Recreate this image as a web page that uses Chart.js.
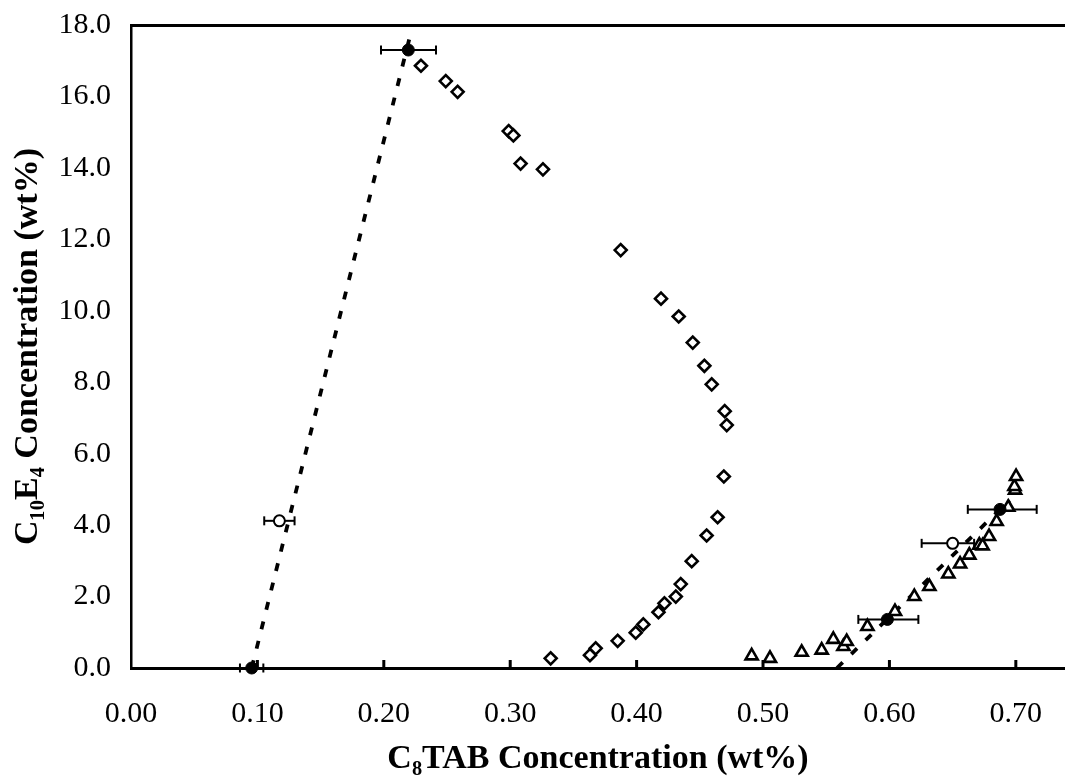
<!DOCTYPE html>
<html><head><meta charset="utf-8">
<script src="https://cdn.jsdelivr.net/npm/chart.js@4/dist/chart.umd.min.js"></script>
<style>html,body{margin:0;padding:0;background:#fff;overflow:hidden}#wrap{width:1065px;height:784px;position:relative}</style>
</head><body><div id="wrap"><canvas id="c"></canvas></div>
<script>
// Tick labels
const xTickValues = [0, 0.1, 0.2, 0.3, 0.4, 0.5, 0.6, 0.7];
const yTickValues = [0, 2, 4, 6, 8, 10, 12, 14, 16, 18];

// Diamonds (open)
const diamondX = [0.2294,0.2490,0.2584,0.2988,0.3025,0.3082,0.3259,0.3874,0.4193,0.4333,0.4444,0.4536,0.4594,0.4697,0.4713,0.4690,0.4641,0.4554,0.4436,0.4349,0.4310,0.4220,0.4173,0.4053,0.3993,0.3850,0.3676,0.3631,0.3320];
const diamondY = [16.86,16.43,16.13,15.03,14.91,14.12,13.96,11.70,10.34,9.84,9.11,8.46,7.94,7.19,6.80,5.36,4.22,3.71,2.99,2.35,2.00,1.81,1.56,1.22,0.99,0.76,0.55,0.36,0.27];

// Triangles (open)
const triX = [0.4910,0.5055,0.5306,0.5464,0.5556,0.5636,0.5662,0.5826,0.6044,0.6197,0.6316,0.6466,0.6559,0.6632,0.6711,0.6737,0.6788,0.6848,0.6940,0.6994,0.6989,0.7002];
const triY = [0.34,0.27,0.44,0.50,0.80,0.60,0.74,1.16,1.58,2.00,2.28,2.63,2.91,3.16,3.44,3.42,3.68,4.10,4.50,4.98,5.08,5.36];

// Filled tie-line end points with horizontal error bars
const tieX = [0.0955, 0.2194, 0.5984, 0.6875];
const tieY = [0, 17.30, 1.36, 4.44];
const tieErrLo = [0.0093, 0.0216, 0.0230, 0.0255];
const tieErrHi = [0.0092, 0.0219, 0.0245, 0.0290];

// Open circles with horizontal error bars
const openX = [0.1174, 0.6500];
const openY = [4.12, 3.49];
const openErrLo = [0.0120, 0.0245];
const openErrHi = [0.0120, 0.0170];

// Dotted tie lines
const tieLineLeftX = [0.0955, 0.2215];
const tieLineLeftY = [0, 17.80];
const tieLineRightX = [0.5585, 0.6950];
const tieLineRightY = [0, 4.70];

const pts = (xs, ys) => xs.map((x, i) => ({x, y: ys[i]}));
const SERIF = "'Liberation Serif','Times New Roman','DejaVu Serif',serif";

const datasets = [];
datasets.push({label:'tie points', data: pts(tieX, tieY), showLine:false, pointStyle:'circle', pointRadius:6,
  pointBackgroundColor:'#000', pointBorderColor:'#000', pointBorderWidth:1, clip:false});
datasets.push({label:'open points', data: pts(openX, openY), showLine:false, pointStyle:'circle', pointRadius:5.5,
  pointBackgroundColor:'#fff', pointBorderColor:'#000', pointBorderWidth:2, clip:false});
datasets.push({label:'diamonds', data: pts(diamondX, diamondY), showLine:false, pointStyle:'rectRot', pointRadius:6,
  pointBackgroundColor:'#fff', pointBorderColor:'#000', pointBorderWidth:2.6});
datasets.push({label:'triangles', data: pts(triX, triY), showLine:false, pointStyle:'triangle', pointRadius:7,
  pointBackgroundColor:'#fff', pointBorderColor:'#000', pointBorderWidth:2.6});
tieX.forEach((x, i) => datasets.push({label:'err', data:[{x:x - tieErrLo[i], y:tieY[i]}, {x:x + tieErrHi[i], y:tieY[i]}],
  showLine:true, borderColor:'#000', borderWidth:2, pointStyle:'line', pointRotation:90, pointRadius:4.5,
  pointBorderColor:'#000', pointBorderWidth:2, clip:false}));
openX.forEach((x, i) => datasets.push({label:'err', data:[{x:x - openErrLo[i], y:openY[i]}, {x:x + openErrHi[i], y:openY[i]}],
  showLine:true, borderColor:'#000', borderWidth:2, pointStyle:'line', pointRotation:90, pointRadius:4.5,
  pointBorderColor:'#000', pointBorderWidth:2, clip:false}));
datasets.push({label:'tie line left', data: pts(tieLineLeftX, tieLineLeftY), showLine:true, borderColor:'#000',
  borderWidth:3.8, borderDash:[8,12], pointRadius:0, clip:false});
datasets.push({label:'tie line right', data: pts(tieLineRightX, tieLineRightY), showLine:true, borderColor:'#000',
  borderWidth:3.8, borderDash:[8,12], pointRadius:0, clip:false});

const innerTicks = {
  id:'innerTicks',
  afterDatasetsDraw(chart){
    const {ctx, scales:{x}, chartArea} = chart;
    ctx.save();
    ctx.strokeStyle = '#000'; ctx.lineWidth = 3;
    xTickValues.forEach(v => {
      if (v === 0) return;
      const px = x.getPixelForValue(v);
      ctx.beginPath(); ctx.moveTo(px, chartArea.bottom); ctx.lineTo(px, chartArea.bottom - 8); ctx.stroke();
    });
    ctx.restore();
  }
};
const noPad = s => { s.paddingTop = 0; s.paddingBottom = 0; s.paddingLeft = 0; s.paddingRight = 0; };

new Chart(document.getElementById('c'), {
  type:'scatter',
  data:{datasets},
  plugins:[innerTicks],
  options:{
    responsive:true, maintainAspectRatio:false, animation:false,
    layout:{autoPadding:false, padding:{top:25, right:0, left:0, bottom:0}},
    plugins:{legend:{display:false}, tooltip:{enabled:false}},
    scales:{
      x:{type:'linear', position:'bottom', min:0, max:0.7389,
        afterBuildTicks:s => { s.ticks = xTickValues.map(v => ({value:v})); },
        afterFit:s => { s.height = 116; noPad(s); },
        grid:{display:false, drawTicks:false},
        border:{display:true, width:3, color:'#000'},
        ticks:{color:'#000', padding:28, font:{family:SERIF, size:30}, callback:v => Number(v).toFixed(2), maxRotation:0, autoSkip:false},
        title:{display:true, text:'C₈TAB Concentration (wt%)', color:'#000', font:{family:SERIF, size:34, weight:'bold'}, padding:{top:6, bottom:4}}
      },
      xTop:{type:'linear', position:'top', min:0, max:0.7389, display:true,
        afterFit:s => { s.height = 0; noPad(s); },
        grid:{display:false, drawTicks:false},
        border:{display:true, width:3, color:'#000'},
        ticks:{display:false}
      },
      y:{type:'linear', position:'left', min:0, max:18,
        afterBuildTicks:s => { s.ticks = yTickValues.map(v => ({value:v})); },
        afterFit:s => { s.width = 131; noPad(s); },
        grid:{display:false, drawTicks:false},
        border:{display:true, width:2.5, color:'#000'},
        ticks:{color:'#000', padding:20, font:{family:SERIF, size:30}, callback:v => Number(v).toFixed(1), autoSkip:false},
        title:{display:true, text:'C₁₀E₄ Concentration (wt%)', color:'#000', font:{family:SERIF, size:34, weight:'bold'}, padding:{top:8, bottom:0}}
      }
    }
  }
});
</script></body></html>
